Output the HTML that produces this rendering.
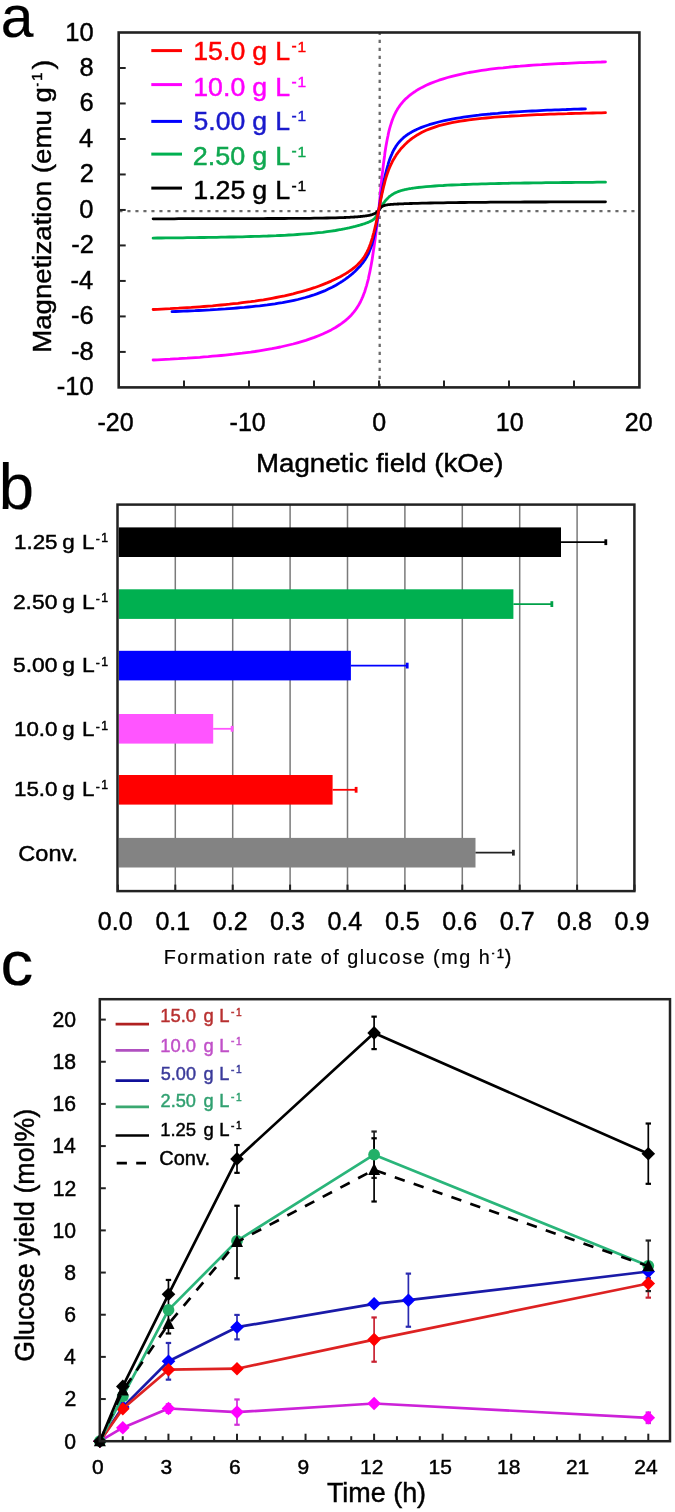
<!DOCTYPE html>
<html><head><meta charset="utf-8"><title>Figure</title>
<style>
html,body{margin:0;padding:0;background:#fff;}
body{width:675px;height:1512px;overflow:hidden;}
svg{display:block;font-family:'Liberation Sans', Arial, Helvetica, sans-serif;}
text{stroke-width:0.45px;}
</style></head><body>
<svg width="675" height="1512" viewBox="0 0 675 1512">
<rect width="675" height="1512" fill="#fff"/>
<text transform="translate(0.75,36.70) scale(0.9781,1)" font-size="60" stroke="#000" style="stroke-width:0.2px">a</text>
<line x1="379.7" y1="32.5" x2="379.7" y2="387.4" stroke="#6a6a6a" stroke-width="2.3" stroke-dasharray="3.1 4.9" stroke-dashoffset="0.7"/>
<line x1="118.7" y1="211.1" x2="639.4" y2="211.1" stroke="#6a6a6a" stroke-width="2.3" stroke-dasharray="3.1 4.9" stroke-dashoffset="-0.7"/>
<line x1="118.70" y1="351.91" x2="125.70" y2="351.91" stroke="#222" stroke-width="2"/>
<line x1="118.70" y1="316.42" x2="125.70" y2="316.42" stroke="#222" stroke-width="2"/>
<line x1="118.70" y1="280.93" x2="125.70" y2="280.93" stroke="#222" stroke-width="2"/>
<line x1="118.70" y1="245.44" x2="125.70" y2="245.44" stroke="#222" stroke-width="2"/>
<line x1="118.70" y1="209.95" x2="125.70" y2="209.95" stroke="#222" stroke-width="2"/>
<line x1="118.70" y1="174.46" x2="125.70" y2="174.46" stroke="#222" stroke-width="2"/>
<line x1="118.70" y1="138.97" x2="125.70" y2="138.97" stroke="#222" stroke-width="2"/>
<line x1="118.70" y1="103.48" x2="125.70" y2="103.48" stroke="#222" stroke-width="2"/>
<line x1="118.70" y1="67.99" x2="125.70" y2="67.99" stroke="#222" stroke-width="2"/>
<line x1="184.00" y1="387.40" x2="184.00" y2="380.40" stroke="#222" stroke-width="2"/>
<line x1="249.00" y1="387.40" x2="249.00" y2="380.40" stroke="#222" stroke-width="2"/>
<line x1="314.00" y1="387.40" x2="314.00" y2="380.40" stroke="#222" stroke-width="2"/>
<line x1="379.00" y1="387.40" x2="379.00" y2="380.40" stroke="#222" stroke-width="2"/>
<line x1="444.00" y1="387.40" x2="444.00" y2="380.40" stroke="#222" stroke-width="2"/>
<line x1="509.00" y1="387.40" x2="509.00" y2="380.40" stroke="#222" stroke-width="2"/>
<line x1="574.00" y1="387.40" x2="574.00" y2="380.40" stroke="#222" stroke-width="2"/>
<polyline points="153.1,360.0 157.4,359.8 161.6,359.6 165.9,359.4 170.1,359.2 174.3,358.9 178.6,358.7 182.8,358.4 187.1,358.2 191.3,357.9 195.5,357.6 199.8,357.3 204.0,356.9 208.3,356.6 212.5,356.2 216.7,355.9 221.0,355.5 225.2,355.1 229.5,354.6 233.7,354.2 237.9,353.7 242.2,353.2 246.4,352.6 250.7,352.1 254.9,351.5 259.1,350.8 263.4,350.1 267.6,349.4 271.9,348.7 276.1,347.8 280.3,347.0 284.6,346.0 288.8,345.0 293.1,344.0 297.3,342.8 301.5,341.6 305.8,340.3 310.0,338.9 314.3,337.4 318.5,335.7 322.7,334.0 327.0,332.0 331.2,329.9 335.5,327.5 339.7,324.8 340.2,324.4 340.7,324.1 341.2,323.8 341.6,323.4 342.1,323.1 342.6,322.7 343.1,322.3 343.6,322.0 344.1,321.6 344.6,321.2 345.1,320.8 345.6,320.4 346.0,320.0 346.5,319.6 347.0,319.2 347.5,318.7 348.0,318.3 348.5,317.8 349.0,317.4 349.4,316.9 349.9,316.4 350.4,315.9 350.9,315.4 351.4,314.9 351.9,314.3 352.4,313.8 352.9,313.2 353.3,312.7 353.8,312.1 354.3,311.4 354.8,310.8 355.3,310.2 355.8,309.5 356.3,308.8 356.8,308.1 357.2,307.3 357.7,306.6 358.2,305.8 358.7,305.0 359.2,304.1 359.7,303.2 360.2,302.3 360.7,301.3 361.1,300.3 361.6,299.3 362.1,298.2 362.6,297.1 363.1,295.9 363.6,294.6 364.1,293.3 364.6,292.0 365.1,290.5 365.5,289.0 366.0,287.4 366.5,285.8 367.0,284.0 367.5,282.2 368.0,280.3 368.5,278.3 368.9,276.1 369.4,273.9 369.9,271.6 370.4,269.1 370.9,266.5 371.4,263.8 371.9,261.0 372.4,258.1 372.8,255.0 373.3,251.8 373.8,248.5 374.3,245.1 374.8,241.5 375.3,237.9 375.8,234.2 376.3,230.4 376.8,226.5 377.2,222.5 377.7,218.6 378.2,214.5 378.7,210.5 379.2,205.3 379.7,200.1 380.2,195.0 380.6,190.0 381.1,185.1 381.6,180.3 382.1,175.7 382.6,171.3 383.1,167.1 383.6,163.1 384.1,159.3 384.6,155.7 385.0,152.2 385.5,149.0 386.0,146.0 386.5,143.2 387.0,140.5 387.5,138.0 388.0,135.7 388.4,133.5 388.9,131.4 389.4,129.4 389.9,127.6 390.4,125.9 390.9,124.3 391.4,122.8 391.9,121.3 392.3,120.0 392.8,118.7 393.3,117.5 393.8,116.3 394.3,115.2 394.8,114.2 395.3,113.2 395.8,112.2 396.2,111.3 396.7,110.5 397.2,109.6 397.7,108.8 398.2,108.0 398.7,107.3 399.2,106.6 399.7,105.9 400.1,105.2 400.6,104.6 401.1,104.0 401.6,103.4 402.1,102.8 402.6,102.2 403.1,101.6 403.6,101.1 404.1,100.6 404.5,100.1 405.0,99.6 405.5,99.1 406.0,98.6 406.5,98.2 407.0,97.7 407.5,97.3 407.9,96.9 408.4,96.4 408.9,96.0 409.4,95.6 409.9,95.2 410.4,94.8 410.9,94.5 411.4,94.1 411.8,93.7 412.3,93.4 412.8,93.0 413.3,92.7 413.8,92.3 414.3,92.0 414.8,91.7 415.3,91.4 415.8,91.0 416.2,90.7 416.7,90.4 417.2,90.1 417.7,89.8 422.0,87.4 426.2,85.3 430.5,83.4 434.8,81.7 439.0,80.2 443.3,78.8 447.6,77.5 451.9,76.3 456.1,75.3 460.4,74.3 464.7,73.4 468.9,72.5 473.2,71.8 477.5,71.1 481.7,70.4 486.0,69.8 490.3,69.2 494.5,68.7 498.8,68.2 503.1,67.8 507.4,67.3 511.6,66.9 515.9,66.5 520.2,66.2 524.4,65.8 528.7,65.5 533.0,65.2 537.2,64.9 541.5,64.7 545.8,64.4 550.0,64.2 554.3,63.9 558.6,63.7 562.9,63.5 567.1,63.3 571.4,63.1 575.7,62.9 579.9,62.7 584.2,62.6 588.5,62.4 592.7,62.3 597.0,62.1 601.3,62.0 605.5,61.8" fill="none" stroke="#ff00ff" stroke-width="2.8" stroke-linejoin="round" stroke-linecap="round"/>
<polyline points="153.1,238.1 157.4,238.0 161.6,238.0 165.9,237.9 170.1,237.9 174.3,237.9 178.6,237.8 182.8,237.8 187.1,237.7 191.3,237.7 195.5,237.6 199.8,237.5 204.0,237.5 208.3,237.4 212.5,237.3 216.7,237.3 221.0,237.2 225.2,237.1 229.5,237.0 233.7,237.0 237.9,236.9 242.2,236.8 246.4,236.6 250.7,236.5 254.9,236.4 259.1,236.3 263.4,236.1 267.6,236.0 271.9,235.8 276.1,235.7 280.3,235.5 284.6,235.3 288.8,235.0 293.1,234.8 297.3,234.5 301.5,234.2 305.8,233.9 310.0,233.6 314.3,233.2 318.5,232.7 322.7,232.3 327.0,231.7 331.2,231.1 335.5,230.5 339.7,229.7 340.2,229.7 340.7,229.6 341.2,229.5 341.6,229.4 342.1,229.3 342.6,229.2 343.1,229.1 343.6,229.0 344.1,228.9 344.6,228.8 345.1,228.7 345.6,228.6 346.0,228.5 346.5,228.4 347.0,228.3 347.5,228.2 348.0,228.1 348.5,228.0 349.0,227.9 349.4,227.8 349.9,227.7 350.4,227.5 350.9,227.4 351.4,227.3 351.9,227.2 352.4,227.1 352.9,227.0 353.3,226.8 353.8,226.7 354.3,226.6 354.8,226.5 355.3,226.4 355.8,226.2 356.3,226.1 356.8,226.0 357.2,225.8 357.7,225.7 358.2,225.6 358.7,225.4 359.2,225.3 359.7,225.2 360.2,225.0 360.7,224.9 361.1,224.7 361.6,224.6 362.1,224.4 362.6,224.3 363.1,224.1 363.6,224.0 364.1,223.8 364.6,223.7 365.1,223.5 365.5,223.3 366.0,223.1 366.5,223.0 367.0,222.8 367.5,222.6 368.0,222.4 368.5,222.2 368.9,222.0 369.4,221.8 369.9,221.6 370.4,221.3 370.9,221.1 371.4,220.8 371.9,220.6 372.4,220.3 372.8,219.9 373.3,219.6 373.8,219.2 374.3,218.7 374.8,218.2 375.3,217.6 375.8,216.9 376.3,216.2 376.8,215.2 377.2,214.2 377.7,213.0 378.2,211.8 378.7,210.5 379.2,209.7 379.7,208.9 380.2,208.2 380.6,207.4 381.1,206.7 381.6,205.9 382.1,205.2 382.6,204.5 383.1,203.8 383.6,203.1 384.1,202.5 384.6,201.8 385.0,201.2 385.5,200.6 386.0,200.0 386.5,199.5 387.0,199.0 387.5,198.5 388.0,198.0 388.4,197.5 388.9,197.1 389.4,196.6 389.9,196.2 390.4,195.9 390.9,195.5 391.4,195.1 391.9,194.8 392.3,194.5 392.8,194.2 393.3,193.9 393.8,193.6 394.3,193.3 394.8,193.1 395.3,192.8 395.8,192.6 396.2,192.4 396.7,192.2 397.2,192.0 397.7,191.8 398.2,191.6 398.7,191.4 399.2,191.2 399.7,191.1 400.1,190.9 400.6,190.8 401.1,190.6 401.6,190.5 402.1,190.3 402.6,190.2 403.1,190.1 403.6,190.0 404.1,189.8 404.5,189.7 405.0,189.6 405.5,189.5 406.0,189.4 406.5,189.3 407.0,189.2 407.5,189.1 407.9,189.0 408.4,188.9 408.9,188.8 409.4,188.7 409.9,188.7 410.4,188.6 410.9,188.5 411.4,188.4 411.8,188.3 412.3,188.3 412.8,188.2 413.3,188.1 413.8,188.1 414.3,188.0 414.8,187.9 415.3,187.9 415.8,187.8 416.2,187.7 416.7,187.7 417.2,187.6 417.7,187.5 422.0,187.1 426.2,186.7 430.5,186.3 434.8,186.0 439.0,185.7 443.3,185.5 447.6,185.2 451.9,185.0 456.1,184.8 460.4,184.7 464.7,184.5 468.9,184.3 473.2,184.2 477.5,184.1 481.7,183.9 486.0,183.8 490.3,183.7 494.5,183.6 498.8,183.5 503.1,183.4 507.4,183.3 511.6,183.2 515.9,183.2 520.2,183.1 524.4,183.0 528.7,183.0 533.0,182.9 537.2,182.8 541.5,182.8 545.8,182.7 550.0,182.7 554.3,182.6 558.6,182.6 562.9,182.5 567.1,182.5 571.4,182.5 575.7,182.4 579.9,182.4 584.2,182.3 588.5,182.3 592.7,182.3 597.0,182.2 601.3,182.2 605.5,182.2" fill="none" stroke="#00b050" stroke-width="2.8" stroke-linejoin="round" stroke-linecap="round"/>
<polyline points="153.1,218.8 157.4,218.8 161.6,218.8 165.9,218.8 170.1,218.8 174.3,218.8 178.6,218.7 182.8,218.7 187.1,218.7 191.3,218.7 195.5,218.7 199.8,218.7 204.0,218.7 208.3,218.7 212.5,218.7 216.7,218.7 221.0,218.7 225.2,218.7 229.5,218.7 233.7,218.6 237.9,218.6 242.2,218.6 246.4,218.6 250.7,218.6 254.9,218.6 259.1,218.6 263.4,218.6 267.6,218.5 271.9,218.5 276.1,218.5 280.3,218.5 284.6,218.5 288.8,218.4 293.1,218.4 297.3,218.4 301.5,218.3 305.8,218.3 310.0,218.3 314.3,218.2 318.5,218.1 322.7,218.1 327.0,218.0 331.2,217.9 335.5,217.8 339.7,217.7 340.2,217.7 340.7,217.7 341.2,217.6 341.6,217.6 342.1,217.6 342.6,217.6 343.1,217.6 343.6,217.6 344.1,217.5 344.6,217.5 345.1,217.5 345.6,217.5 346.0,217.5 346.5,217.4 347.0,217.4 347.5,217.4 348.0,217.4 348.5,217.3 349.0,217.3 349.4,217.3 349.9,217.3 350.4,217.2 350.9,217.2 351.4,217.2 351.9,217.2 352.4,217.1 352.9,217.1 353.3,217.1 353.8,217.0 354.3,217.0 354.8,217.0 355.3,216.9 355.8,216.9 356.3,216.9 356.8,216.8 357.2,216.8 357.7,216.8 358.2,216.7 358.7,216.7 359.2,216.6 359.7,216.6 360.2,216.5 360.7,216.5 361.1,216.5 361.6,216.4 362.1,216.4 362.6,216.3 363.1,216.2 363.6,216.2 364.1,216.1 364.6,216.1 365.1,216.0 365.5,215.9 366.0,215.9 366.5,215.8 367.0,215.7 367.5,215.6 368.0,215.6 368.5,215.5 368.9,215.4 369.4,215.3 369.9,215.2 370.4,215.1 370.9,214.9 371.4,214.8 371.9,214.7 372.4,214.5 372.8,214.3 373.3,214.2 373.8,213.9 374.3,213.7 374.8,213.5 375.3,213.2 375.8,212.9 376.3,212.5 376.8,212.2 377.2,211.8 377.7,211.4 378.2,210.9 378.7,210.5 379.2,209.7 379.7,209.0 380.2,208.4 380.6,207.8 381.1,207.3 381.6,206.8 382.1,206.5 382.6,206.2 383.1,205.9 383.6,205.7 384.1,205.6 384.6,205.4 385.0,205.3 385.5,205.2 386.0,205.1 386.5,205.0 387.0,204.9 387.5,204.8 388.0,204.7 388.4,204.7 388.9,204.6 389.4,204.6 389.9,204.5 390.4,204.5 390.9,204.4 391.4,204.4 391.9,204.4 392.3,204.3 392.8,204.3 393.3,204.3 393.8,204.2 394.3,204.2 394.8,204.2 395.3,204.1 395.8,204.1 396.2,204.1 396.7,204.1 397.2,204.0 397.7,204.0 398.2,204.0 398.7,204.0 399.2,203.9 399.7,203.9 400.1,203.9 400.6,203.9 401.1,203.8 401.6,203.8 402.1,203.8 402.6,203.8 403.1,203.8 403.6,203.8 404.1,203.7 404.5,203.7 405.0,203.7 405.5,203.7 406.0,203.7 406.5,203.6 407.0,203.6 407.5,203.6 407.9,203.6 408.4,203.6 408.9,203.6 409.4,203.5 409.9,203.5 410.4,203.5 410.9,203.5 411.4,203.5 411.8,203.5 412.3,203.5 412.8,203.4 413.3,203.4 413.8,203.4 414.3,203.4 414.8,203.4 415.3,203.4 415.8,203.4 416.2,203.3 416.7,203.3 417.2,203.3 417.7,203.3 422.0,203.2 426.2,203.1 430.5,203.0 434.8,202.9 439.0,202.8 443.3,202.8 447.6,202.7 451.9,202.6 456.1,202.6 460.4,202.5 464.7,202.5 468.9,202.4 473.2,202.4 477.5,202.4 481.7,202.3 486.0,202.3 490.3,202.2 494.5,202.2 498.8,202.2 503.1,202.2 507.4,202.1 511.6,202.1 515.9,202.1 520.2,202.1 524.4,202.0 528.7,202.0 533.0,202.0 537.2,202.0 541.5,202.0 545.8,202.0 550.0,201.9 554.3,201.9 558.6,201.9 562.9,201.9 567.1,201.9 571.4,201.9 575.7,201.9 579.9,201.9 584.2,201.9 588.5,201.8 592.7,201.8 597.0,201.8 601.3,201.8 605.5,201.8" fill="none" stroke="#000000" stroke-width="2.8" stroke-linejoin="round" stroke-linecap="round"/>
<polyline points="172.0,311.7 175.8,311.5 179.6,311.4 183.4,311.2 187.2,311.0 191.1,310.8 194.9,310.7 198.7,310.5 202.5,310.3 206.3,310.1 210.1,309.9 213.9,309.6 217.7,309.4 221.5,309.1 225.4,308.9 229.2,308.6 233.0,308.3 236.8,308.0 240.6,307.7 244.4,307.4 248.2,307.0 252.0,306.6 255.8,306.2 259.7,305.8 263.5,305.3 267.3,304.9 271.1,304.3 274.9,303.8 278.7,303.2 282.5,302.6 286.3,301.9 290.2,301.1 294.0,300.3 297.8,299.5 301.6,298.5 305.4,297.5 309.2,296.4 313.0,295.2 316.8,293.9 320.6,292.4 324.5,290.9 328.3,289.1 332.1,287.3 335.9,285.2 339.7,282.9 340.2,282.6 340.7,282.3 341.2,282.0 341.6,281.7 342.1,281.4 342.6,281.1 343.1,280.7 343.6,280.4 344.1,280.1 344.6,279.7 345.1,279.4 345.6,279.0 346.0,278.7 346.5,278.3 347.0,278.0 347.5,277.6 348.0,277.2 348.5,276.9 349.0,276.5 349.4,276.1 349.9,275.7 350.4,275.3 350.9,274.9 351.4,274.5 351.9,274.1 352.4,273.7 352.9,273.3 353.3,272.8 353.8,272.4 354.3,272.0 354.8,271.5 355.3,271.1 355.8,270.6 356.3,270.1 356.8,269.6 357.2,269.1 357.7,268.6 358.2,268.1 358.7,267.6 359.2,267.1 359.7,266.5 360.2,266.0 360.7,265.4 361.1,264.8 361.6,264.2 362.1,263.6 362.6,263.0 363.1,262.4 363.6,261.7 364.1,261.0 364.6,260.3 365.1,259.6 365.5,258.8 366.0,258.0 366.5,257.2 367.0,256.3 367.5,255.4 368.0,254.5 368.5,253.5 368.9,252.4 369.4,251.3 369.9,250.1 370.4,248.8 370.9,247.5 371.4,246.1 371.9,244.5 372.4,242.9 372.8,241.1 373.3,239.3 373.8,237.3 374.3,235.1 374.8,232.9 375.3,230.4 375.8,227.9 376.3,225.2 376.8,222.4 377.2,219.5 377.7,216.6 378.2,213.5 378.7,210.5 379.2,207.6 379.7,204.7 380.2,201.8 380.6,199.0 381.1,196.2 381.6,193.4 382.1,190.7 382.6,188.1 383.1,185.6 383.6,183.1 384.1,180.7 384.6,178.4 385.0,176.2 385.5,174.1 386.0,172.1 386.5,170.1 387.0,168.3 387.5,166.5 388.0,164.8 388.4,163.2 388.9,161.7 389.4,160.2 389.9,158.8 390.4,157.5 390.9,156.3 391.4,155.1 391.9,154.0 392.3,152.9 392.8,151.9 393.3,150.9 393.8,149.9 394.3,149.1 394.8,148.2 395.3,147.4 395.8,146.6 396.2,145.9 396.7,145.2 397.2,144.5 397.7,143.8 398.2,143.2 398.7,142.6 399.2,142.0 399.7,141.5 400.1,140.9 400.6,140.4 401.1,139.9 401.6,139.4 402.1,139.0 402.6,138.5 403.1,138.1 403.6,137.6 404.1,137.2 404.5,136.8 405.0,136.4 405.5,136.1 406.0,135.7 406.5,135.3 407.0,135.0 407.5,134.6 407.9,134.3 408.4,134.0 408.9,133.7 409.4,133.4 409.9,133.1 410.4,132.8 410.9,132.5 411.4,132.2 411.8,131.9 412.3,131.6 412.8,131.4 413.3,131.1 413.8,130.9 414.3,130.6 414.8,130.4 415.3,130.1 415.8,129.9 416.2,129.7 416.7,129.4 417.2,129.2 417.7,129.0 421.5,127.4 425.3,126.0 429.1,124.7 432.9,123.6 436.8,122.5 440.6,121.5 444.4,120.7 448.2,119.9 452.0,119.1 455.8,118.4 459.6,117.8 463.4,117.2 467.2,116.6 471.1,116.1 474.9,115.6 478.7,115.2 482.5,114.7 486.3,114.3 490.1,114.0 493.9,113.6 497.7,113.3 501.6,112.9 505.4,112.6 509.2,112.4 513.0,112.1 516.8,111.8 520.6,111.6 524.4,111.4 528.2,111.2 532.0,111.0 535.9,110.8 539.7,110.6 543.5,110.4 547.3,110.2 551.1,110.1 554.9,109.9 558.7,109.8 562.5,109.6 566.3,109.5 570.2,109.3 574.0,109.2 577.8,109.1 581.6,109.0 585.4,108.9" fill="none" stroke="#0000ff" stroke-width="2.8" stroke-linejoin="round" stroke-linecap="round"/>
<polyline points="153.1,309.5 157.4,309.3 161.6,309.1 165.9,308.9 170.1,308.7 174.3,308.4 178.6,308.2 182.8,307.9 187.1,307.6 191.3,307.4 195.5,307.1 199.8,306.8 204.0,306.5 208.3,306.1 212.5,305.8 216.7,305.4 221.0,305.0 225.2,304.6 229.5,304.2 233.7,303.7 237.9,303.3 242.2,302.7 246.4,302.2 250.7,301.7 254.9,301.1 259.1,300.4 263.4,299.8 267.6,299.1 271.9,298.3 276.1,297.5 280.3,296.7 284.6,295.8 288.8,294.8 293.1,293.8 297.3,292.7 301.5,291.6 305.8,290.4 310.0,289.1 314.3,287.7 318.5,286.2 322.7,284.6 327.0,282.9 331.2,281.1 335.5,279.1 339.7,277.0 340.2,276.7 340.7,276.5 341.2,276.2 341.6,275.9 342.1,275.7 342.6,275.4 343.1,275.1 343.6,274.8 344.1,274.5 344.6,274.3 345.1,274.0 345.6,273.7 346.0,273.4 346.5,273.1 347.0,272.8 347.5,272.5 348.0,272.2 348.5,271.8 349.0,271.5 349.4,271.2 349.9,270.8 350.4,270.5 350.9,270.2 351.4,269.8 351.9,269.5 352.4,269.1 352.9,268.7 353.3,268.3 353.8,268.0 354.3,267.6 354.8,267.2 355.3,266.8 355.8,266.3 356.3,265.9 356.8,265.5 357.2,265.0 357.7,264.6 358.2,264.1 358.7,263.6 359.2,263.1 359.7,262.6 360.2,262.0 360.7,261.5 361.1,260.9 361.6,260.3 362.1,259.7 362.6,259.1 363.1,258.4 363.6,257.7 364.1,257.0 364.6,256.2 365.1,255.5 365.5,254.6 366.0,253.8 366.5,252.9 367.0,252.0 367.5,251.0 368.0,249.9 368.5,248.8 368.9,247.7 369.4,246.5 369.9,245.2 370.4,243.9 370.9,242.5 371.4,241.0 371.9,239.4 372.4,237.8 372.8,236.1 373.3,234.3 373.8,232.5 374.3,230.5 374.8,228.5 375.3,226.4 375.8,224.3 376.3,222.1 376.8,219.8 377.2,217.5 377.7,215.2 378.2,212.9 378.7,210.5 379.2,207.9 379.7,205.4 380.2,202.9 380.6,200.4 381.1,198.0 381.6,195.6 382.1,193.3 382.6,191.1 383.1,188.9 383.6,186.8 384.1,184.8 384.6,182.9 385.0,181.1 385.5,179.4 386.0,177.7 386.5,176.1 387.0,174.6 387.5,173.1 388.0,171.8 388.4,170.4 388.9,169.2 389.4,168.0 389.9,166.8 390.4,165.7 390.9,164.6 391.4,163.6 391.9,162.6 392.3,161.7 392.8,160.7 393.3,159.8 393.8,159.0 394.3,158.2 394.8,157.3 395.3,156.6 395.8,155.8 396.2,155.1 396.7,154.3 397.2,153.6 397.7,153.0 398.2,152.3 398.7,151.6 399.2,151.0 399.7,150.4 400.1,149.8 400.6,149.2 401.1,148.6 401.6,148.1 402.1,147.5 402.6,147.0 403.1,146.4 403.6,145.9 404.1,145.4 404.5,144.9 405.0,144.4 405.5,144.0 406.0,143.5 406.5,143.1 407.0,142.6 407.5,142.2 407.9,141.7 408.4,141.3 408.9,140.9 409.4,140.5 409.9,140.1 410.4,139.7 410.9,139.3 411.4,139.0 411.8,138.6 412.3,138.2 412.8,137.9 413.3,137.5 413.8,137.2 414.3,136.9 414.8,136.5 415.3,136.2 415.8,135.9 416.2,135.6 416.7,135.3 417.2,135.0 417.7,134.7 422.0,132.3 426.2,130.3 430.5,128.6 434.8,127.1 439.0,125.7 443.3,124.6 447.6,123.6 451.9,122.7 456.1,121.9 460.4,121.1 464.7,120.5 468.9,119.9 473.2,119.3 477.5,118.8 481.7,118.4 486.0,118.0 490.3,117.6 494.5,117.2 498.8,116.9 503.1,116.6 507.4,116.3 511.6,116.0 515.9,115.8 520.2,115.6 524.4,115.3 528.7,115.1 533.0,114.9 537.2,114.7 541.5,114.6 545.8,114.4 550.0,114.2 554.3,114.1 558.6,113.9 562.9,113.8 567.1,113.7 571.4,113.5 575.7,113.4 579.9,113.3 584.2,113.2 588.5,113.1 592.7,113.0 597.0,112.9 601.3,112.8 605.5,112.7" fill="none" stroke="#ff0000" stroke-width="2.8" stroke-linejoin="round" stroke-linecap="round"/>
<rect x="118.7" y="32.5" width="520.7" height="354.9" fill="none" stroke="#222" stroke-width="2.6"/>
<text transform="translate(56.72,395.40)" font-size="25.5" stroke="#000">-10</text>
<text transform="translate(70.97,359.91)" font-size="25.5" stroke="#000">-8</text>
<text transform="translate(70.97,324.42)" font-size="25.5" stroke="#000">-6</text>
<text transform="translate(70.60,288.93)" font-size="25.5" stroke="#000">-4</text>
<text transform="translate(71.22,253.44)" font-size="25.5" stroke="#000">-2</text>
<text transform="translate(79.35,217.95)" font-size="25.5" stroke="#000">0</text>
<text transform="translate(79.72,182.46)" font-size="25.5" stroke="#000">2</text>
<text transform="translate(79.10,146.97)" font-size="25.5" stroke="#000">4</text>
<text transform="translate(79.47,111.48)" font-size="25.5" stroke="#000">6</text>
<text transform="translate(79.47,75.99)" font-size="25.5" stroke="#000">8</text>
<text transform="translate(65.22,40.50)" font-size="25.5" stroke="#000">10</text>
<text transform="translate(97.41,430.80)" font-size="25" stroke="#000">-20</text>
<text transform="translate(229.61,430.80)" font-size="25" stroke="#000">-10</text>
<text transform="translate(372.30,430.80)" font-size="25" stroke="#000">0</text>
<text transform="translate(495.82,430.80)" font-size="25" stroke="#000">10</text>
<text transform="translate(624.74,430.80)" font-size="25" stroke="#000">20</text>
<text transform="translate(256.01,472.30) scale(1.0933,1)" font-size="25.3" stroke="#000">Magnetic field (kOe)</text>
<text transform="translate(50.80,352.82) rotate(-90) scale(1.0430,1)" font-size="26.5" stroke="#000">Magnetization (emu g</text>
<text transform="translate(42.20,86.43) rotate(-90) scale(0.6933,1)" font-size="15" stroke="#000">-</text>
<text transform="translate(42.30,81.12) rotate(-90)" font-size="15.5" stroke="#000">1</text>
<text transform="translate(51.60,69.47) rotate(-90) scale(1.0759,1)" font-size="27.5" stroke="#000">)</text>
<line x1="151.30" y1="50.60" x2="182.00" y2="50.60" stroke="#ff0000" stroke-width="3"/>
<text transform="translate(193.24,59.70) scale(1.0289,1)" font-size="26" fill="#ff0000" stroke="#ff0000">15.0</text>
<text transform="translate(252.24,59.70) scale(1.0289,1)" font-size="26" fill="#ff0000" stroke="#ff0000">g</text>
<text transform="translate(275.21,59.70) scale(1.0289,1)" font-size="26" fill="#ff0000" stroke="#ff0000">L</text>
<text transform="translate(291.38,51.10)" font-size="15.5" fill="#ff0000" stroke="#ff0000">-</text>
<text transform="translate(297.40,51.60)" font-size="15.5" fill="#ff0000" stroke="#ff0000">1</text>
<line x1="151.30" y1="84.60" x2="182.00" y2="84.60" stroke="#ff00ff" stroke-width="3"/>
<text transform="translate(193.24,95.50) scale(1.0289,1)" font-size="26" fill="#ff00ff" stroke="#ff00ff">10.0</text>
<text transform="translate(252.24,95.50) scale(1.0289,1)" font-size="26" fill="#ff00ff" stroke="#ff00ff">g</text>
<text transform="translate(275.21,95.50) scale(1.0289,1)" font-size="26" fill="#ff00ff" stroke="#ff00ff">L</text>
<text transform="translate(291.38,86.90)" font-size="15.5" fill="#ff00ff" stroke="#ff00ff">-</text>
<text transform="translate(297.40,87.40)" font-size="15.5" fill="#ff00ff" stroke="#ff00ff">1</text>
<line x1="151.30" y1="121.40" x2="182.00" y2="121.40" stroke="#0000ff" stroke-width="3"/>
<text transform="translate(193.48,129.50) scale(1.0242,1)" font-size="26" fill="#1a1acc" stroke="#1a1acc">5.00</text>
<text transform="translate(252.25,129.50) scale(1.0242,1)" font-size="26" fill="#1a1acc" stroke="#1a1acc">g</text>
<text transform="translate(275.22,129.50) scale(1.0242,1)" font-size="26" fill="#1a1acc" stroke="#1a1acc">L</text>
<text transform="translate(291.38,120.90)" font-size="15.5" fill="#1a1acc" stroke="#1a1acc">-</text>
<text transform="translate(297.40,121.40)" font-size="15.5" fill="#1a1acc" stroke="#1a1acc">1</text>
<line x1="151.30" y1="154.10" x2="182.00" y2="154.10" stroke="#00b050" stroke-width="3"/>
<text transform="translate(192.80,165.00) scale(1.0377,1)" font-size="26" fill="#10a850" stroke="#10a850">2.50</text>
<text transform="translate(252.23,165.00) scale(1.0377,1)" font-size="26" fill="#10a850" stroke="#10a850">g</text>
<text transform="translate(275.19,165.00) scale(1.0377,1)" font-size="26" fill="#10a850" stroke="#10a850">L</text>
<text transform="translate(291.38,156.40)" font-size="15.5" fill="#10a850" stroke="#10a850">-</text>
<text transform="translate(297.40,156.90)" font-size="15.5" fill="#10a850" stroke="#10a850">1</text>
<line x1="151.30" y1="188.10" x2="182.00" y2="188.10" stroke="#000" stroke-width="3"/>
<text transform="translate(193.24,199.20) scale(1.0316,1)" font-size="26" stroke="#000">1.25</text>
<text transform="translate(252.24,199.20) scale(1.0316,1)" font-size="26" stroke="#000">g</text>
<text transform="translate(275.21,199.20) scale(1.0316,1)" font-size="26" stroke="#000">L</text>
<text transform="translate(291.38,190.60)" font-size="15.5" stroke="#000">-</text>
<text transform="translate(297.40,191.10)" font-size="15.5" stroke="#000">1</text>
<text transform="translate(-1.15,509.00) scale(0.9828,1)" font-size="64.5" stroke="#000" style="stroke-width:0.2px">b</text>
<line x1="175.30" y1="504.60" x2="175.30" y2="891.10" stroke="#7a7a7a" stroke-width="1.5"/>
<line x1="232.70" y1="504.60" x2="232.70" y2="891.10" stroke="#7a7a7a" stroke-width="1.5"/>
<line x1="290.10" y1="504.60" x2="290.10" y2="891.10" stroke="#7a7a7a" stroke-width="1.5"/>
<line x1="347.50" y1="504.60" x2="347.50" y2="891.10" stroke="#7a7a7a" stroke-width="1.5"/>
<line x1="404.90" y1="504.60" x2="404.90" y2="891.10" stroke="#7a7a7a" stroke-width="1.5"/>
<line x1="462.30" y1="504.60" x2="462.30" y2="891.10" stroke="#7a7a7a" stroke-width="1.5"/>
<line x1="519.70" y1="504.60" x2="519.70" y2="891.10" stroke="#7a7a7a" stroke-width="1.5"/>
<line x1="577.10" y1="504.60" x2="577.10" y2="891.10" stroke="#7a7a7a" stroke-width="1.5"/>
<rect x="118.8" y="527.4" width="442.2" height="29.6" fill="#000000"/>
<line x1="561.03" y1="542.20" x2="605.80" y2="542.20" stroke="#000" stroke-width="1.8"/>
<line x1="605.80" y1="539.30" x2="605.80" y2="545.10" stroke="#000" stroke-width="2.8"/>
<text transform="translate(13.96,548.60) scale(1.0933,1)" font-size="20.5" stroke="#000">1.25</text>
<text transform="translate(62.24,548.60) scale(1.0933,1)" font-size="20.5" stroke="#000">g</text>
<text transform="translate(82.02,548.60) scale(1.0933,1)" font-size="20.5" stroke="#000">L</text>
<text transform="translate(95.70,543.40)" font-size="12.2" stroke="#000">-</text>
<text transform="translate(101.35,542.30)" font-size="12.2" stroke="#000">1</text>
<rect x="118.8" y="589.3" width="394.6" height="29.6" fill="#00b050"/>
<line x1="513.39" y1="604.10" x2="551.84" y2="604.10" stroke="#00a048" stroke-width="1.8"/>
<line x1="551.84" y1="601.20" x2="551.84" y2="607.00" stroke="#00a048" stroke-width="2.8"/>
<text transform="translate(12.88,608.60) scale(1.1174,1)" font-size="20.5" stroke="#000">2.50</text>
<text transform="translate(62.22,608.60) scale(1.1174,1)" font-size="20.5" stroke="#000">g</text>
<text transform="translate(81.98,608.60) scale(1.1174,1)" font-size="20.5" stroke="#000">L</text>
<text transform="translate(95.70,603.40)" font-size="12.2" stroke="#000">-</text>
<text transform="translate(101.35,602.30)" font-size="12.2" stroke="#000">1</text>
<rect x="118.8" y="650.8" width="232.1" height="29.6" fill="#0000ff"/>
<line x1="350.94" y1="665.60" x2="407.20" y2="665.60" stroke="#0000ff" stroke-width="1.8"/>
<line x1="407.20" y1="662.70" x2="407.20" y2="668.50" stroke="#0000ff" stroke-width="2.8"/>
<text transform="translate(13.03,672.40) scale(1.1137,1)" font-size="20.5" stroke="#000">5.00</text>
<text transform="translate(62.23,672.40) scale(1.1137,1)" font-size="20.5" stroke="#000">g</text>
<text transform="translate(81.99,672.40) scale(1.1137,1)" font-size="20.5" stroke="#000">L</text>
<text transform="translate(95.70,667.20)" font-size="12.2" stroke="#000">-</text>
<text transform="translate(101.35,666.10)" font-size="12.2" stroke="#000">1</text>
<rect x="118.8" y="714.0" width="94.4" height="29.6" fill="#ff55ff"/>
<line x1="213.18" y1="728.80" x2="232.13" y2="728.80" stroke="#ff55ff" stroke-width="1.8"/>
<line x1="232.13" y1="725.90" x2="232.13" y2="731.70" stroke="#ff55ff" stroke-width="2.8"/>
<text transform="translate(13.97,736.30) scale(1.0897,1)" font-size="20.5" stroke="#000">10.0</text>
<text transform="translate(62.25,736.30) scale(1.0897,1)" font-size="20.5" stroke="#000">g</text>
<text transform="translate(82.03,736.30) scale(1.0897,1)" font-size="20.5" stroke="#000">L</text>
<text transform="translate(95.70,731.10)" font-size="12.2" stroke="#000">-</text>
<text transform="translate(101.35,730.00)" font-size="12.2" stroke="#000">1</text>
<rect x="118.8" y="775.0" width="213.8" height="29.6" fill="#ff0000"/>
<line x1="332.58" y1="789.80" x2="356.11" y2="789.80" stroke="#ff0000" stroke-width="1.8"/>
<line x1="356.11" y1="786.90" x2="356.11" y2="792.70" stroke="#ff0000" stroke-width="2.8"/>
<text transform="translate(13.97,795.70) scale(1.0897,1)" font-size="20.5" stroke="#000">15.0</text>
<text transform="translate(62.25,795.70) scale(1.0897,1)" font-size="20.5" stroke="#000">g</text>
<text transform="translate(82.03,795.70) scale(1.0897,1)" font-size="20.5" stroke="#000">L</text>
<text transform="translate(95.70,790.50)" font-size="12.2" stroke="#000">-</text>
<text transform="translate(101.35,789.40)" font-size="12.2" stroke="#000">1</text>
<rect x="118.8" y="837.9" width="356.7" height="29.6" fill="#838383"/>
<line x1="475.50" y1="852.70" x2="513.39" y2="852.70" stroke="#222" stroke-width="1.8"/>
<line x1="513.39" y1="849.80" x2="513.39" y2="855.60" stroke="#222" stroke-width="2.8"/>
<text transform="translate(18.35,860.50) scale(1.1060,1)" font-size="21.3" stroke="#000">Conv.</text>
<line x1="117.90" y1="891.10" x2="117.90" y2="884.60" stroke="#222" stroke-width="2"/>
<line x1="175.30" y1="891.10" x2="175.30" y2="884.60" stroke="#222" stroke-width="2"/>
<line x1="232.70" y1="891.10" x2="232.70" y2="884.60" stroke="#222" stroke-width="2"/>
<line x1="290.10" y1="891.10" x2="290.10" y2="884.60" stroke="#222" stroke-width="2"/>
<line x1="347.50" y1="891.10" x2="347.50" y2="884.60" stroke="#222" stroke-width="2"/>
<line x1="404.90" y1="891.10" x2="404.90" y2="884.60" stroke="#222" stroke-width="2"/>
<line x1="462.30" y1="891.10" x2="462.30" y2="884.60" stroke="#222" stroke-width="2"/>
<line x1="519.70" y1="891.10" x2="519.70" y2="884.60" stroke="#222" stroke-width="2"/>
<line x1="577.10" y1="891.10" x2="577.10" y2="884.60" stroke="#222" stroke-width="2"/>
<line x1="634.50" y1="891.10" x2="634.50" y2="884.60" stroke="#222" stroke-width="2"/>
<rect x="117.5" y="504.6" width="516.9" height="386.5" fill="none" stroke="#222" stroke-width="2.5"/>
<text transform="translate(97.86,929.60)" font-size="25" stroke="#000">0.0</text>
<text transform="translate(155.39,929.60)" font-size="25" stroke="#000">0.1</text>
<text transform="translate(212.85,929.60)" font-size="25" stroke="#000">0.2</text>
<text transform="translate(270.12,929.60)" font-size="25" stroke="#000">0.3</text>
<text transform="translate(327.40,929.60)" font-size="25" stroke="#000">0.4</text>
<text transform="translate(384.92,929.60)" font-size="25" stroke="#000">0.5</text>
<text transform="translate(442.32,929.60)" font-size="25" stroke="#000">0.6</text>
<text transform="translate(499.85,929.60)" font-size="25" stroke="#000">0.7</text>
<text transform="translate(557.12,929.60)" font-size="25" stroke="#000">0.8</text>
<text transform="translate(614.59,929.60)" font-size="25" stroke="#000">0.9</text>
<text transform="translate(163.77,963.70)" font-size="19.8" letter-spacing="1.520" stroke="#000" style="stroke-width:0.2px">Formation rate of glucose (mg h</text>
<text transform="translate(491.68,957.30) scale(0.6400,1)" font-size="12.5" stroke="#000">-</text>
<text transform="translate(496.79,958.00)" font-size="13" stroke="#000">1</text>
<text transform="translate(505.08,963.70) scale(0.9500,1)" font-size="19.8" stroke="#000">)</text>
<text transform="translate(0.56,984.60) scale(1.0444,1)" font-size="62.5" stroke="#000" style="stroke-width:0.2px">c</text>
<line x1="99.80" y1="1399.04" x2="105.80" y2="1399.04" stroke="#222" stroke-width="2"/>
<line x1="99.80" y1="1356.88" x2="105.80" y2="1356.88" stroke="#222" stroke-width="2"/>
<line x1="99.80" y1="1314.72" x2="105.80" y2="1314.72" stroke="#222" stroke-width="2"/>
<line x1="99.80" y1="1272.56" x2="105.80" y2="1272.56" stroke="#222" stroke-width="2"/>
<line x1="99.80" y1="1230.40" x2="105.80" y2="1230.40" stroke="#222" stroke-width="2"/>
<line x1="99.80" y1="1188.24" x2="105.80" y2="1188.24" stroke="#222" stroke-width="2"/>
<line x1="99.80" y1="1146.08" x2="105.80" y2="1146.08" stroke="#222" stroke-width="2"/>
<line x1="99.80" y1="1103.92" x2="105.80" y2="1103.92" stroke="#222" stroke-width="2"/>
<line x1="99.80" y1="1061.76" x2="105.80" y2="1061.76" stroke="#222" stroke-width="2"/>
<line x1="99.80" y1="1019.60" x2="105.80" y2="1019.60" stroke="#222" stroke-width="2"/>
<line x1="122.75" y1="1441.20" x2="122.75" y2="1436.20" stroke="#222" stroke-width="2"/>
<line x1="145.60" y1="1441.20" x2="145.60" y2="1436.20" stroke="#222" stroke-width="2"/>
<line x1="168.45" y1="1441.20" x2="168.45" y2="1433.70" stroke="#222" stroke-width="2"/>
<line x1="191.30" y1="1441.20" x2="191.30" y2="1436.20" stroke="#222" stroke-width="2"/>
<line x1="214.15" y1="1441.20" x2="214.15" y2="1436.20" stroke="#222" stroke-width="2"/>
<line x1="237.00" y1="1441.20" x2="237.00" y2="1433.70" stroke="#222" stroke-width="2"/>
<line x1="259.85" y1="1441.20" x2="259.85" y2="1436.20" stroke="#222" stroke-width="2"/>
<line x1="282.70" y1="1441.20" x2="282.70" y2="1436.20" stroke="#222" stroke-width="2"/>
<line x1="305.55" y1="1441.20" x2="305.55" y2="1433.70" stroke="#222" stroke-width="2"/>
<line x1="328.40" y1="1441.20" x2="328.40" y2="1436.20" stroke="#222" stroke-width="2"/>
<line x1="351.25" y1="1441.20" x2="351.25" y2="1436.20" stroke="#222" stroke-width="2"/>
<line x1="374.10" y1="1441.20" x2="374.10" y2="1433.70" stroke="#222" stroke-width="2"/>
<line x1="396.95" y1="1441.20" x2="396.95" y2="1436.20" stroke="#222" stroke-width="2"/>
<line x1="419.80" y1="1441.20" x2="419.80" y2="1436.20" stroke="#222" stroke-width="2"/>
<line x1="442.65" y1="1441.20" x2="442.65" y2="1433.70" stroke="#222" stroke-width="2"/>
<line x1="465.50" y1="1441.20" x2="465.50" y2="1436.20" stroke="#222" stroke-width="2"/>
<line x1="488.35" y1="1441.20" x2="488.35" y2="1436.20" stroke="#222" stroke-width="2"/>
<line x1="511.20" y1="1441.20" x2="511.20" y2="1433.70" stroke="#222" stroke-width="2"/>
<line x1="534.05" y1="1441.20" x2="534.05" y2="1436.20" stroke="#222" stroke-width="2"/>
<line x1="556.90" y1="1441.20" x2="556.90" y2="1436.20" stroke="#222" stroke-width="2"/>
<line x1="579.75" y1="1441.20" x2="579.75" y2="1433.70" stroke="#222" stroke-width="2"/>
<line x1="602.60" y1="1441.20" x2="602.60" y2="1436.20" stroke="#222" stroke-width="2"/>
<line x1="625.45" y1="1441.20" x2="625.45" y2="1436.20" stroke="#222" stroke-width="2"/>
<line x1="648.30" y1="1441.20" x2="648.30" y2="1433.70" stroke="#222" stroke-width="2"/>
<line x1="237.00" y1="1399.46" x2="237.00" y2="1424.76" stroke="#d030d8" stroke-width="1.7"/>
<line x1="234.30" y1="1399.46" x2="239.70" y2="1399.46" stroke="#d030d8" stroke-width="2.2"/>
<line x1="234.30" y1="1424.76" x2="239.70" y2="1424.76" stroke="#d030d8" stroke-width="2.2"/>
<line x1="168.45" y1="1404.31" x2="168.45" y2="1412.74" stroke="#d030d8" stroke-width="1.7"/>
<line x1="165.75" y1="1404.31" x2="171.15" y2="1404.31" stroke="#d030d8" stroke-width="2.2"/>
<line x1="165.75" y1="1412.74" x2="171.15" y2="1412.74" stroke="#d030d8" stroke-width="2.2"/>
<line x1="648.30" y1="1412.53" x2="648.30" y2="1423.07" stroke="#d030d8" stroke-width="1.7"/>
<line x1="645.60" y1="1412.53" x2="651.00" y2="1412.53" stroke="#d030d8" stroke-width="2.2"/>
<line x1="645.60" y1="1423.07" x2="651.00" y2="1423.07" stroke="#d030d8" stroke-width="2.2"/>
<line x1="168.45" y1="1342.97" x2="168.45" y2="1379.65" stroke="#2a2ab0" stroke-width="1.7"/>
<line x1="165.75" y1="1342.97" x2="171.15" y2="1342.97" stroke="#2a2ab0" stroke-width="2.2"/>
<line x1="165.75" y1="1379.65" x2="171.15" y2="1379.65" stroke="#2a2ab0" stroke-width="2.2"/>
<line x1="237.00" y1="1314.93" x2="237.00" y2="1339.38" stroke="#2a2ab0" stroke-width="1.7"/>
<line x1="234.30" y1="1314.93" x2="239.70" y2="1314.93" stroke="#2a2ab0" stroke-width="2.2"/>
<line x1="234.30" y1="1339.38" x2="239.70" y2="1339.38" stroke="#2a2ab0" stroke-width="2.2"/>
<line x1="408.38" y1="1273.61" x2="408.38" y2="1326.74" stroke="#2a2ab0" stroke-width="1.7"/>
<line x1="405.68" y1="1273.61" x2="411.07" y2="1273.61" stroke="#2a2ab0" stroke-width="2.2"/>
<line x1="405.68" y1="1326.74" x2="411.07" y2="1326.74" stroke="#2a2ab0" stroke-width="2.2"/>
<line x1="648.30" y1="1265.18" x2="648.30" y2="1277.83" stroke="#2a2ab0" stroke-width="1.7"/>
<line x1="645.60" y1="1265.18" x2="651.00" y2="1265.18" stroke="#2a2ab0" stroke-width="2.2"/>
<line x1="645.60" y1="1277.83" x2="651.00" y2="1277.83" stroke="#2a2ab0" stroke-width="2.2"/>
<line x1="374.10" y1="1317.46" x2="374.10" y2="1361.73" stroke="#c82030" stroke-width="1.7"/>
<line x1="371.40" y1="1317.46" x2="376.80" y2="1317.46" stroke="#c82030" stroke-width="2.2"/>
<line x1="371.40" y1="1361.73" x2="376.80" y2="1361.73" stroke="#c82030" stroke-width="2.2"/>
<line x1="648.30" y1="1269.40" x2="648.30" y2="1297.65" stroke="#c82030" stroke-width="1.7"/>
<line x1="645.60" y1="1269.40" x2="651.00" y2="1269.40" stroke="#c82030" stroke-width="2.2"/>
<line x1="645.60" y1="1297.65" x2="651.00" y2="1297.65" stroke="#c82030" stroke-width="2.2"/>
<line x1="374.10" y1="1131.53" x2="374.10" y2="1177.91" stroke="#222" stroke-width="1.7"/>
<line x1="371.40" y1="1131.53" x2="376.80" y2="1131.53" stroke="#222" stroke-width="2.2"/>
<line x1="371.40" y1="1177.91" x2="376.80" y2="1177.91" stroke="#222" stroke-width="2.2"/>
<line x1="648.30" y1="1240.52" x2="648.30" y2="1291.11" stroke="#222" stroke-width="1.7"/>
<line x1="645.60" y1="1240.52" x2="651.00" y2="1240.52" stroke="#222" stroke-width="2.2"/>
<line x1="645.60" y1="1291.11" x2="651.00" y2="1291.11" stroke="#222" stroke-width="2.2"/>
<line x1="168.45" y1="1314.51" x2="168.45" y2="1333.48" stroke="#000" stroke-width="1.7"/>
<line x1="165.75" y1="1314.51" x2="171.15" y2="1314.51" stroke="#000" stroke-width="2.2"/>
<line x1="165.75" y1="1333.48" x2="171.15" y2="1333.48" stroke="#000" stroke-width="2.2"/>
<line x1="237.00" y1="1205.74" x2="237.00" y2="1278.25" stroke="#000" stroke-width="1.7"/>
<line x1="234.30" y1="1205.74" x2="239.70" y2="1205.74" stroke="#000" stroke-width="2.2"/>
<line x1="234.30" y1="1278.25" x2="239.70" y2="1278.25" stroke="#000" stroke-width="2.2"/>
<line x1="374.10" y1="1138.28" x2="374.10" y2="1201.52" stroke="#000" stroke-width="1.7"/>
<line x1="371.40" y1="1138.28" x2="376.80" y2="1138.28" stroke="#000" stroke-width="2.2"/>
<line x1="371.40" y1="1201.52" x2="376.80" y2="1201.52" stroke="#000" stroke-width="2.2"/>
<line x1="168.45" y1="1279.94" x2="168.45" y2="1308.61" stroke="#000" stroke-width="1.7"/>
<line x1="165.75" y1="1279.94" x2="171.15" y2="1279.94" stroke="#000" stroke-width="2.2"/>
<line x1="165.75" y1="1308.61" x2="171.15" y2="1308.61" stroke="#000" stroke-width="2.2"/>
<line x1="237.00" y1="1145.03" x2="237.00" y2="1172.85" stroke="#000" stroke-width="1.7"/>
<line x1="234.30" y1="1145.03" x2="239.70" y2="1145.03" stroke="#000" stroke-width="2.2"/>
<line x1="234.30" y1="1172.85" x2="239.70" y2="1172.85" stroke="#000" stroke-width="2.2"/>
<line x1="374.10" y1="1016.65" x2="374.10" y2="1049.11" stroke="#000" stroke-width="1.7"/>
<line x1="371.40" y1="1016.65" x2="376.80" y2="1016.65" stroke="#000" stroke-width="2.2"/>
<line x1="371.40" y1="1049.11" x2="376.80" y2="1049.11" stroke="#000" stroke-width="2.2"/>
<line x1="648.30" y1="1123.52" x2="648.30" y2="1183.81" stroke="#000" stroke-width="1.7"/>
<line x1="645.60" y1="1123.52" x2="651.00" y2="1123.52" stroke="#000" stroke-width="2.2"/>
<line x1="645.60" y1="1183.81" x2="651.00" y2="1183.81" stroke="#000" stroke-width="2.2"/>
<polyline points="99.9,1441.2 122.8,1427.7 168.5,1408.5 237.0,1412.1 374.1,1403.5 648.3,1417.8" fill="none" stroke="#cc22d8" stroke-width="2.7" stroke-linejoin="round"/>
<polygon points="99.9,1434.4 106.7,1441.2 99.9,1448.0 93.1,1441.2" fill="#ff00ff"/>
<polygon points="122.8,1420.9 129.6,1427.7 122.8,1434.5 116.0,1427.7" fill="#ff00ff"/>
<polygon points="168.5,1401.7 175.3,1408.5 168.5,1415.3 161.7,1408.5" fill="#ff00ff"/>
<polygon points="237.0,1405.3 243.8,1412.1 237.0,1418.9 230.2,1412.1" fill="#ff00ff"/>
<polygon points="374.1,1396.7 380.9,1403.5 374.1,1410.3 367.3,1403.5" fill="#ff00ff"/>
<polygon points="648.3,1411.0 655.1,1417.8 648.3,1424.6 641.5,1417.8" fill="#ff00ff"/>
<polyline points="99.9,1441.2 122.8,1407.1 168.5,1361.3 237.0,1327.2 374.1,1303.8 408.4,1300.2 648.3,1271.5" fill="none" stroke="#1a1aa8" stroke-width="2.7" stroke-linejoin="round"/>
<polygon points="99.9,1434.4 106.7,1441.2 99.9,1448.0 93.1,1441.2" fill="#0000ff"/>
<polygon points="122.8,1400.3 129.6,1407.1 122.8,1413.9 116.0,1407.1" fill="#0000ff"/>
<polygon points="168.5,1354.5 175.3,1361.3 168.5,1368.1 161.7,1361.3" fill="#0000ff"/>
<polygon points="237.0,1320.4 243.8,1327.2 237.0,1334.0 230.2,1327.2" fill="#0000ff"/>
<polygon points="374.1,1297.0 380.9,1303.8 374.1,1310.6 367.3,1303.8" fill="#0000ff"/>
<polygon points="408.4,1293.4 415.2,1300.2 408.4,1307.0 401.6,1300.2" fill="#0000ff"/>
<polygon points="648.3,1264.7 655.1,1271.5 648.3,1278.3 641.5,1271.5" fill="#0000ff"/>
<polyline points="99.9,1441.2 122.8,1408.7 168.5,1369.7 237.0,1368.7 374.1,1339.6 648.3,1283.5" fill="none" stroke="#dd2222" stroke-width="2.7" stroke-linejoin="round"/>
<polygon points="99.9,1434.4 106.7,1441.2 99.9,1448.0 93.1,1441.2" fill="#ff0000"/>
<polygon points="122.8,1401.9 129.6,1408.7 122.8,1415.5 116.0,1408.7" fill="#ff0000"/>
<polygon points="168.5,1362.9 175.3,1369.7 168.5,1376.5 161.7,1369.7" fill="#ff0000"/>
<polygon points="237.0,1361.9 243.8,1368.7 237.0,1375.5 230.2,1368.7" fill="#ff0000"/>
<polygon points="374.1,1332.8 380.9,1339.6 374.1,1346.4 367.3,1339.6" fill="#ff0000"/>
<polygon points="648.3,1276.7 655.1,1283.5 648.3,1290.3 641.5,1283.5" fill="#ff0000"/>
<polyline points="99.9,1441.2 122.8,1396.3 168.5,1309.9 237.0,1240.9 374.1,1154.7 648.3,1265.8" fill="none" stroke="#2ab57a" stroke-width="2.7" stroke-linejoin="round"/>
<circle cx="99.9" cy="1441.2" r="5.9" fill="#22b068"/>
<circle cx="122.8" cy="1396.3" r="5.9" fill="#22b068"/>
<circle cx="168.5" cy="1309.9" r="5.9" fill="#22b068"/>
<circle cx="237.0" cy="1240.9" r="5.9" fill="#22b068"/>
<circle cx="374.1" cy="1154.7" r="5.9" fill="#22b068"/>
<circle cx="648.3" cy="1265.8" r="5.9" fill="#22b068"/>
<polyline points="99.9,1441.2 122.8,1390.6 168.5,1324.0 237.0,1242.0 374.1,1169.9 648.3,1266.2" fill="none" stroke="#000" stroke-width="2.7" stroke-linejoin="round" stroke-dasharray="10.5 9.5"/>
<polygon points="99.9,1434.2 105.9,1446.2 93.9,1446.2" fill="#000"/>
<polygon points="122.8,1383.6 128.8,1395.6 116.8,1395.6" fill="#000"/>
<polygon points="168.5,1317.0 174.5,1329.0 162.5,1329.0" fill="#000"/>
<polygon points="237.0,1235.0 243.0,1247.0 231.0,1247.0" fill="#000"/>
<polygon points="374.1,1162.9 380.1,1174.9 368.1,1174.9" fill="#000"/>
<polygon points="648.3,1259.2 654.3,1271.2 642.3,1271.2" fill="#000"/>
<polyline points="99.9,1441.2 122.8,1386.4 168.5,1294.3 237.0,1158.9 374.1,1032.9 648.3,1153.7" fill="none" stroke="#000" stroke-width="2.7" stroke-linejoin="round"/>
<polygon points="99.9,1434.4 106.7,1441.2 99.9,1448.0 93.1,1441.2" fill="#000"/>
<polygon points="122.8,1379.6 129.6,1386.4 122.8,1393.2 116.0,1386.4" fill="#000"/>
<polygon points="168.5,1287.5 175.3,1294.3 168.5,1301.1 161.7,1294.3" fill="#000"/>
<polygon points="237.0,1152.1 243.8,1158.9 237.0,1165.7 230.2,1158.9" fill="#000"/>
<polygon points="374.1,1026.1 380.9,1032.9 374.1,1039.7 367.3,1032.9" fill="#000"/>
<polygon points="648.3,1146.9 655.1,1153.7 648.3,1160.5 641.5,1153.7" fill="#000"/>
<rect x="99.8" y="999.2" width="570.2" height="442.0" fill="none" stroke="#222" stroke-width="2.5"/>
<text transform="translate(64.23,1448.60)" font-size="21.2" stroke="#000">0</text>
<text transform="translate(64.48,1406.44)" font-size="21.2" stroke="#000">2</text>
<text transform="translate(63.98,1364.28)" font-size="21.2" stroke="#000">4</text>
<text transform="translate(64.35,1322.12)" font-size="21.2" stroke="#000">6</text>
<text transform="translate(64.35,1279.96)" font-size="21.2" stroke="#000">8</text>
<text transform="translate(52.38,1237.80)" font-size="21.2" stroke="#000">10</text>
<text transform="translate(52.63,1195.64)" font-size="21.2" stroke="#000">12</text>
<text transform="translate(52.13,1153.48)" font-size="21.2" stroke="#000">14</text>
<text transform="translate(52.50,1111.32)" font-size="21.2" stroke="#000">16</text>
<text transform="translate(52.50,1069.16)" font-size="21.2" stroke="#000">18</text>
<text transform="translate(52.38,1027.00)" font-size="21.2" stroke="#000">20</text>
<text transform="translate(91.89,1473.50)" font-size="21.0" stroke="#000">0</text>
<text transform="translate(160.50,1473.50)" font-size="21.0" stroke="#000">3</text>
<text transform="translate(228.93,1473.50)" font-size="21.0" stroke="#000">6</text>
<text transform="translate(297.48,1473.50)" font-size="21.0" stroke="#000">9</text>
<text transform="translate(359.96,1473.50)" font-size="21.0" stroke="#000">12</text>
<text transform="translate(428.45,1473.50)" font-size="21.0" stroke="#000">15</text>
<text transform="translate(497.00,1473.50)" font-size="21.0" stroke="#000">18</text>
<text transform="translate(565.92,1473.50)" font-size="21.0" stroke="#000">21</text>
<text transform="translate(634.23,1473.50)" font-size="21.0" stroke="#000">24</text>
<text transform="translate(326.88,1502.20) scale(0.9904,1)" font-size="27.2" stroke="#000">Time (h)</text>
<text transform="translate(33.50,1361.66) rotate(-90) scale(0.9916,1)" font-size="27.0" stroke="#000">Glucose yield (mol%)</text>
<line x1="115.60" y1="1024.20" x2="149.00" y2="1024.20" stroke="#b02020" stroke-width="2.7"/>
<text transform="translate(160.17,1022.30) scale(0.9692,1)" font-size="19" fill="#b83030" stroke="#b83030">15.0</text>
<text transform="translate(203.47,1022.30) scale(0.9692,1)" font-size="19" fill="#b83030" stroke="#b83030">g</text>
<text transform="translate(219.35,1022.30) scale(0.9692,1)" font-size="19" fill="#b83030" stroke="#b83030">L</text>
<text transform="translate(230.90,1014.95)" font-size="10.2" fill="#b83030" stroke="#b83030">-</text>
<text transform="translate(236.06,1015.60)" font-size="10.2" fill="#b83030" stroke="#b83030">1</text>
<line x1="115.60" y1="1050.40" x2="149.00" y2="1050.40" stroke="#b050c0" stroke-width="2.7"/>
<text transform="translate(160.17,1051.50) scale(0.9692,1)" font-size="19" fill="#c050c8" stroke="#c050c8">10.0</text>
<text transform="translate(203.47,1051.50) scale(0.9692,1)" font-size="19" fill="#c050c8" stroke="#c050c8">g</text>
<text transform="translate(219.35,1051.50) scale(0.9692,1)" font-size="19" fill="#c050c8" stroke="#c050c8">L</text>
<text transform="translate(230.90,1044.15)" font-size="10.2" fill="#c050c8" stroke="#c050c8">-</text>
<text transform="translate(236.06,1044.80)" font-size="10.2" fill="#c050c8" stroke="#c050c8">1</text>
<line x1="115.60" y1="1080.60" x2="149.00" y2="1080.60" stroke="#10109a" stroke-width="2.7"/>
<text transform="translate(160.79,1080.00) scale(0.9521,1)" font-size="19" fill="#3a3a9a" stroke="#3a3a9a">5.00</text>
<text transform="translate(203.49,1080.00) scale(0.9521,1)" font-size="19" fill="#3a3a9a" stroke="#3a3a9a">g</text>
<text transform="translate(219.37,1080.00) scale(0.9521,1)" font-size="19" fill="#3a3a9a" stroke="#3a3a9a">L</text>
<text transform="translate(230.90,1072.65)" font-size="10.2" fill="#3a3a9a" stroke="#3a3a9a">-</text>
<text transform="translate(236.06,1073.30)" font-size="10.2" fill="#3a3a9a" stroke="#3a3a9a">1</text>
<line x1="115.60" y1="1106.80" x2="149.00" y2="1106.80" stroke="#3aa870" stroke-width="2.7"/>
<text transform="translate(160.54,1107.30) scale(0.9589,1)" font-size="19" fill="#30a070" stroke="#30a070">2.50</text>
<text transform="translate(203.48,1107.30) scale(0.9589,1)" font-size="19" fill="#30a070" stroke="#30a070">g</text>
<text transform="translate(219.36,1107.30) scale(0.9589,1)" font-size="19" fill="#30a070" stroke="#30a070">L</text>
<text transform="translate(230.90,1099.95)" font-size="10.2" fill="#30a070" stroke="#30a070">-</text>
<text transform="translate(236.06,1100.60)" font-size="10.2" fill="#30a070" stroke="#30a070">1</text>
<line x1="115.60" y1="1135.50" x2="149.00" y2="1135.50" stroke="#000" stroke-width="2.7"/>
<text transform="translate(160.16,1136.00) scale(0.9727,1)" font-size="19" stroke="#000">1.25</text>
<text transform="translate(203.47,1136.00) scale(0.9727,1)" font-size="19" stroke="#000">g</text>
<text transform="translate(219.34,1136.00) scale(0.9727,1)" font-size="19" stroke="#000">L</text>
<text transform="translate(230.90,1128.65)" font-size="10.2" stroke="#000">-</text>
<text transform="translate(236.06,1129.30)" font-size="10.2" stroke="#000">1</text>
<line x1="116.70" y1="1163.20" x2="146.00" y2="1163.20" stroke="#000" stroke-width="2.7" stroke-dasharray="10.2 9.3"/>
<text transform="translate(159.30,1165.30)" font-size="20" stroke="#000">Conv.</text>
</svg>
</body></html>
